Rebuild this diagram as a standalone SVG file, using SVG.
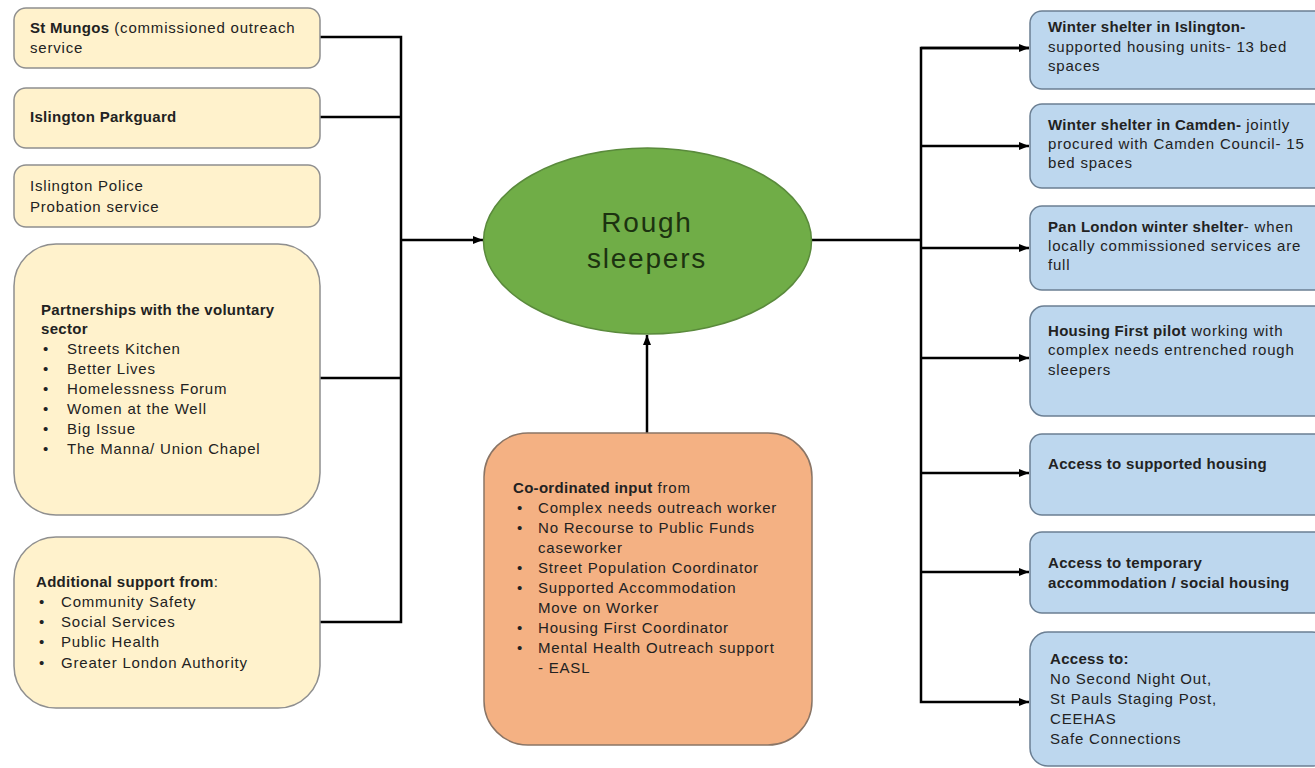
<svg xmlns="http://www.w3.org/2000/svg" width="1315" height="768" viewBox="0 0 1315 768">
<style>
text{font-family:"Liberation Sans",Arial,sans-serif;font-size:15px;fill:#222;letter-spacing:0.8px}
.b{font-weight:bold;letter-spacing:0.3px}
.yb{fill:#fff2cc;stroke:#8f8f8f;stroke-width:1.5}
.bb{fill:#bdd7ee;stroke:#6b7f93;stroke-width:1.5}
.ob{fill:#f4b183;stroke:#8a7566;stroke-width:1.5}
.ln{fill:none;stroke:#000;stroke-width:2.5}
.big{font-size:28px;letter-spacing:1.8px;fill:#1c3210;text-anchor:middle}
</style>
<defs>
<marker id="ah" viewBox="0 0 10 8" markerWidth="10" markerHeight="8" refX="10" refY="4" orient="auto" markerUnits="userSpaceOnUse">
<path d="M0,0 L10,4 L0,8 z" fill="#000"/>
</marker>
</defs>
<rect width="1315" height="768" fill="#fff"/>

<g id="connectors">
<polyline class="ln" points="320,37 401,37 401,622 320,622"/>
<line class="ln" x1="320" y1="117" x2="401" y2="117"/>
<line class="ln" x1="320" y1="378" x2="401" y2="378"/>
<line class="ln" x1="401" y1="240" x2="483" y2="240" marker-end="url(#ah)"/>
<line class="ln" x1="647" y1="433" x2="647" y2="335" marker-end="url(#ah)"/>
<line class="ln" x1="811" y1="240" x2="921" y2="240"/>
<polyline class="ln" points="1029,48 921,48 921,702 1029,702" marker-end="url(#ah)"/>
<line class="ln" x1="921" y1="48" x2="1029" y2="48" marker-end="url(#ah)"/>
<line class="ln" x1="921" y1="146" x2="1029" y2="146" marker-end="url(#ah)"/>
<line class="ln" x1="921" y1="248" x2="1029" y2="248" marker-end="url(#ah)"/>
<line class="ln" x1="921" y1="358" x2="1029" y2="358" marker-end="url(#ah)"/>
<line class="ln" x1="921" y1="473" x2="1029" y2="473" marker-end="url(#ah)"/>
<line class="ln" x1="921" y1="572" x2="1029" y2="572" marker-end="url(#ah)"/>
</g>

<g id="st-mungos">
<rect class="yb" x="14" y="8" width="306" height="60" rx="12"/>
<text x="30" y="33"><tspan class="b">St Mungos</tspan>  (commissioned outreach</text>
<text x="30" y="53">service</text>
</g>
<g id="parkguard">
<rect class="yb" x="14" y="88" width="306" height="60" rx="12"/>
<text class="b" x="30" y="122">Islington  Parkguard</text>
</g>
<g id="police">
<rect class="yb" x="14" y="165" width="306" height="62" rx="12"/>
<text x="30" y="191">Islington Police</text>
<text x="30" y="212">Probation service</text>
</g>
<g id="voluntary">
<rect class="yb" x="14" y="244" width="306" height="271" rx="42"/>
<text class="b" x="41" y="315">Partnerships with the voluntary</text>
<text class="b" x="41" y="334">sector</text>
<text x="43" y="354">•</text><text x="67" y="354">Streets Kitchen</text>
<text x="43" y="374">•</text><text x="67" y="374">Better  Lives</text>
<text x="43" y="394">•</text><text x="67" y="394">Homelessness Forum</text>
<text x="43" y="414">•</text><text x="67" y="414">Women at the Well</text>
<text x="43" y="434">•</text><text x="67" y="434">Big Issue</text>
<text x="43" y="454">•</text><text x="67" y="454">The Manna/ Union Chapel</text>
</g>
<g id="additional">
<rect class="yb" x="14" y="537" width="306" height="171" rx="42"/>
<text x="36" y="587"><tspan class="b">Additional  support from</tspan>:</text>
<text x="39" y="607">•</text><text x="61" y="607">Community Safety</text>
<text x="39" y="627">•</text><text x="61" y="627">Social Services</text>
<text x="39" y="647">•</text><text x="61" y="647">Public Health</text>
<text x="39" y="668">•</text><text x="61" y="668">Greater London Authority</text>
</g>

<g id="rough-sleepers">
<ellipse cx="647.5" cy="241" rx="164" ry="93" fill="#70ad47" stroke="#5a8a3c" stroke-width="1.5"/>
<text class="big" x="647" y="232">Rough</text>
<text class="big" x="647" y="268">sleepers</text>
</g>

<g id="coordinated">
<rect class="ob" x="484" y="433" width="328" height="312" rx="44"/>
<text x="513" y="493"><tspan class="b">Co-ordinated input</tspan> from</text>
<text x="517" y="513">•</text><text x="538" y="513">Complex needs outreach worker</text>
<text x="517" y="533">•</text><text x="538" y="533">No Recourse to Public Funds</text>
<text x="538" y="553">caseworker</text>
<text x="517" y="573">•</text><text x="538" y="573">Street  Population Coordinator</text>
<text x="517" y="593">•</text><text x="538" y="593">Supported  Accommodation</text>
<text x="538" y="613">Move on Worker</text>
<text x="517" y="633">•</text><text x="538" y="633">Housing First Coordinator</text>
<text x="517" y="653">•</text><text x="538" y="653">Mental Health Outreach support</text>
<text x="538" y="673">- EASL</text>
</g>

<g id="winter-islington">
<rect class="bb" x="1030" y="11" width="300" height="78" rx="12"/>
<text class="b" x="1048" y="32">Winter shelter in Islington-</text>
<text x="1048" y="52">supported housing units- 13 bed</text>
<text x="1048" y="71">spaces</text>
</g>
<g id="winter-camden">
<rect class="bb" x="1030" y="104" width="300" height="84" rx="12"/>
<text x="1048" y="130"><tspan class="b">Winter shelter in Camden-</tspan> jointly</text>
<text x="1048" y="149">procured with Camden Council- 15</text>
<text x="1048" y="168">bed spaces</text>
</g>
<g id="pan-london">
<rect class="bb" x="1030" y="206" width="300" height="84" rx="12"/>
<text x="1048" y="232"><tspan class="b">Pan London winter shelter</tspan>- when</text>
<text x="1048" y="251">locally commissioned services are</text>
<text x="1048" y="270">full</text>
</g>
<g id="housing-first">
<rect class="bb" x="1030" y="306" width="300" height="110" rx="14"/>
<text x="1048" y="336"><tspan class="b">Housing  First pilot</tspan> working with</text>
<text x="1048" y="355">complex needs entrenched  rough</text>
<text x="1048" y="375">sleepers</text>
</g>
<g id="supported-housing">
<rect class="bb" x="1030" y="434" width="300" height="81" rx="12"/>
<text class="b" x="1048" y="469">Access to supported housing</text>
</g>
<g id="temporary">
<rect class="bb" x="1030" y="532" width="300" height="81" rx="12"/>
<text class="b" x="1048" y="568">Access to temporary</text>
<text class="b" x="1048" y="588">accommodation  / social  housing</text>
</g>
<g id="access-to">
<rect class="bb" x="1030" y="632" width="300" height="134" rx="18"/>
<text class="b" x="1050" y="664">Access to:</text>
<text x="1050" y="684">No Second Night Out,</text>
<text x="1050" y="704">St Pauls Staging Post,</text>
<text x="1050" y="724">CEEHAS</text>
<text x="1050" y="744">Safe Connections</text>
</g>
</svg>
